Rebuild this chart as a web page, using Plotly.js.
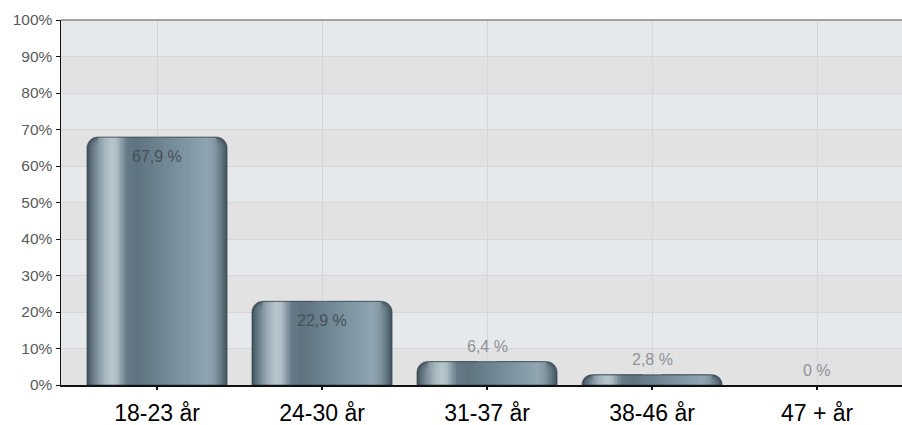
<!DOCTYPE html>
<html>
<head>
<meta charset="utf-8">
<script src="https://cdn.plot.ly/plotly-3.0.1.min.js"></script>
<style>
  html, body { margin: 0; padding: 0; background: #ffffff; }
  #chart { width: 902px; height: 425px; }
</style>
</head>
<body>
<div id="chart"></div>
<script>
// Age distribution of respondents
const ageGroups = ['18-23 år', '24-30 år', '31-37 år', '38-46 år', '47 + år'];
const shares = [67.9, 22.9, 6.4, 2.8, 0];
const yTickVals = [0, 10, 20, 30, 40, 50, 60, 70, 80, 90, 100];

const FONT = '"Liberation Sans", Arial, Helvetica, sans-serif';

// Plot geometry (px) used to turn pixel sizes into category units
const margin = { l: 61, r: 0, t: 20, b: 40 };
const xRange = [-0.582, 4.515];
const plotW = 902 - margin.l - margin.r;
const unit = plotW / (xRange[1] - xRange[0]);   // px per category
const barPx = 140;                                // bar width in px
const R = 11;                                     // top corner radius in px

// Horizontal shading across a bar, giving it a cylindrical look
const shadeStops = [
  [0, '#3d4e58'], [4, '#5b6e79'], [10, '#7e919b'], [18, '#a6b6be'],
  [25, '#b9c6cd'], [30, '#acbbc3'], [35, '#8599a4'], [40, '#667b87'],
  [50, '#5e737f'], [70, '#6c828e'], [90, '#7a909c'], [110, '#889eab'],
  [120, '#90a6b2'], [127, '#8599a5'], [133, '#6b7f8a'], [137, '#53656f'],
  [140, '#435560']
];

function hexToRgb(h) {
  return [parseInt(h.slice(1, 3), 16), parseInt(h.slice(3, 5), 16), parseInt(h.slice(5, 7), 16)];
}
function shadeAt(px) {
  for (let i = 0; i < shadeStops.length - 1; i++) {
    const [a, ca] = shadeStops[i];
    const [b, cb] = shadeStops[i + 1];
    if (px <= b) {
      const t = Math.max(0, Math.min(1, (px - a) / (b - a)));
      const A = hexToRgb(ca), B = hexToRgb(cb);
      const c = A.map((v, k) => Math.round(v + (B[k] - v) * t));
      return 'rgb(' + c.join(',') + ')';
    }
  }
  return shadeStops[shadeStops.length - 1][1];
}

const traces = [];
function addLayer(offPx, widPx, color, radius, line) {
  traces.push({
    type: 'bar',
    x: ageGroups,
    y: shares,
    offset: (-barPx / 2 + offPx) / unit,
    width: widPx / unit,
    marker: {
      color: color,
      cornerradius: radius,
      line: line || { width: 0 }
    },
    hoverinfo: 'skip',
    showlegend: false
  });
}

const mid = barPx / 2;
const step = 2.4;
// left rounded edge: nested rounded bars, each spanning to the middle
for (let i = 0; i < 5; i++) {
  const off = i * step;
  addLayer(off, mid - off, shadeAt(off + step / 2), R);
}
// right rounded edge: nested rounded bars from the middle outwards
for (let j = 0; j < 5; j++) {
  const end = barPx - j * step;
  addLayer(mid, end - mid, shadeAt(end - step / 2), R);
}
// flat-topped stripes across the middle
for (let x = R; x < barPx - R; x += 2) {
  const w = Math.min(2.6, barPx - R - x + 0.3);
  addLayer(x, w, shadeAt(x + 1), 0);
}
// thin darker rim around each non-empty bar
addLayer(0, barPx, 'rgba(0,0,0,0)', R, {
  width: shares.map(v => (v > 0 ? 1.2 : 0)),
  color: 'rgba(40,52,62,0.55)'
});

// value labels: inside near the top for tall bars, above for short ones
const fmt = v => String(v).replace('.', ',') + ' %';
const annotations = shares.map((v, i) => {
  const inside = v >= 15;
  return {
    x: ageGroups[i], y: v, xref: 'x', yref: 'y',
    text: fmt(v), showarrow: false,
    yshift: inside ? -19 : 15,
    font: { family: FONT, size: 16, color: inside ? '#44515b' : '#8e9398' }
  };
});

// alternating background bands between gridlines
const shapes = [];
for (let k = 0; k < yTickVals.length - 1; k += 2) {
  shapes.push({
    type: 'rect', xref: 'paper', yref: 'y', layer: 'below',
    x0: 0, x1: 1, y0: yTickVals[k], y1: yTickVals[k + 1],
    fillcolor: '#e2e2e2', line: { width: 0 }
  });
}
shapes.push({
  type: 'line', xref: 'paper', yref: 'paper', x0: 0, x1: 1, y0: 1, y1: 1,
  line: { color: '#a2a2a2', width: 2 }
});

const layout = {
  width: 902, height: 425,
  margin: margin,
  paper_bgcolor: '#ffffff',
  plot_bgcolor: '#e6e9ec',
  barmode: 'overlay',
  showlegend: false,
  font: { family: FONT },
  xaxis: {
    type: 'category',
    range: xRange,
    showgrid: true, gridcolor: '#d6d6d6', gridwidth: 1,
    showline: true, linecolor: '#111111', linewidth: 1.5,
    ticks: 'outside', ticklen: 3, tickcolor: '#111111', tickwidth: 1.2,
    ticklabelstandoff: 4,
    tickfont: { family: FONT, size: 23, color: '#000000' },
    fixedrange: true
  },
  yaxis: {
    range: [0, 100],
    tickvals: yTickVals,
    ticktext: yTickVals.map(v => v + '%'),
    showgrid: true, gridcolor: '#d6d6d6', gridwidth: 1,
    zeroline: false,
    showline: true, linecolor: '#111111', linewidth: 1.5,
    ticks: 'outside', ticklen: 4, tickcolor: '#111111', tickwidth: 1,
    tickfont: { family: FONT, size: 15.5, color: '#5a5a5a' },
    fixedrange: true
  },
  shapes: shapes,
  annotations: annotations
};

Plotly.newPlot('chart', traces, layout, { displayModeBar: false, staticPlot: true });
</script>
</body>
</html>
